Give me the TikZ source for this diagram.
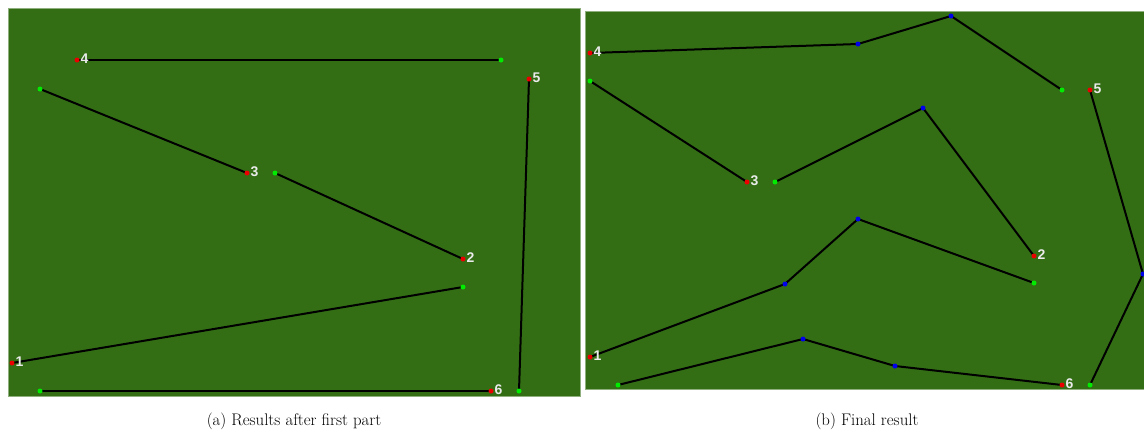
\documentclass[tikz,border=0pt]{standalone}
\usepackage{fontspec}
\newfontfamily\numfont{Liberation Sans}
\definecolor{field}{RGB}{51,110,21}
\definecolor{startpt}{RGB}{235,0,0}
\definecolor{endpt}{RGB}{0,235,0}
\definecolor{waypt}{RGB}{0,0,235}

\begin{document}
\begin{tikzpicture}[x=1pt,y=-1pt,
    route/.style={line width=2pt,black},
    num/.style={anchor=west,inner sep=0pt,xshift=3.5pt,yshift=1.5pt,text=white!92!black,
      font=\numfont\bfseries\fontsize{14}{14}\selectfont},
    captext/.style={inner sep=0pt,font=\fontsize{16.8}{19}\selectfont}]
  \useasboundingbox (0,0) rectangle (1144,432);
  \fill[field,draw=field!55!white,line width=0.7pt] (8,8) rectangle (580,396);
  \fill[field,draw=field!55!white,line width=0.7pt] (585,11) rectangle (1150,389);

  % (a) after first part
  \foreach \n/\x/\y in {1/12/363, 2/463/259, 3/247/173, 4/77/60, 5/529/79, 6/491/391}
    \coordinate (a\n) at (\x,\y);
  \foreach \n/\x/\y in {1/463/287, 2/275/173, 3/40/89, 4/501/60, 5/519/391, 6/40/391}
    \coordinate (ag\n) at (\x,\y);
  \foreach \n in {1,...,6}
    \draw[route] (a\n) -- (ag\n);

  % (b) final result
  \foreach \n/\x/\y in {1/590/357, 2/1034/256, 3/747/182, 4/590/53, 5/1090/90, 6/1062/385}
    \coordinate (b\n) at (\x,\y);
  \foreach \n/\x/\y in {1/1034/283, 2/775/182, 3/590/81, 4/1062/90, 5/1090/385, 6/618/385}
    \coordinate (bg\n) at (\x,\y);
  \foreach \w/\x/\y in {w11/785/284, w12/858/219, w21/923/108, w41/858/44, w42/951/16,
                        w51/1143/274, w61/803/339, w62/895/366}
    \coordinate (\w) at (\x,\y);
  \draw[route] (b1) -- (w11) -- (w12) -- (bg1);
  \draw[route] (bg2) -- (w21) -- (b2);
  \draw[route] (bg3) -- (b3);
  \draw[route] (b4) -- (w41) -- (w42) -- (bg4);
  \draw[route] (bg5) -- (w51) -- (b5);
  \draw[route] (bg6) -- (w61) -- (w62) -- (b6);

  % dots and numbers
  \foreach \p in {a,b}{
    \foreach \n in {1,...,6}{
      \fill[endpt] (\p g\n) circle (2.5pt);
      \fill[startpt] (\p\n) circle (2.5pt);
      \node[num] (\p num\n) at (\p\n) {\n};
    }
  }
  \foreach \w in {w11,w12,w21,w41,w42,w51,w61,w62}
    \fill[waypt] (\w) circle (2.5pt);

  \node[captext] (capa) at (294,421) {(a) Results after first part};
  \node[captext] (capb) at (867,421) {(b) Final result};
\end{tikzpicture}
\end{document}
